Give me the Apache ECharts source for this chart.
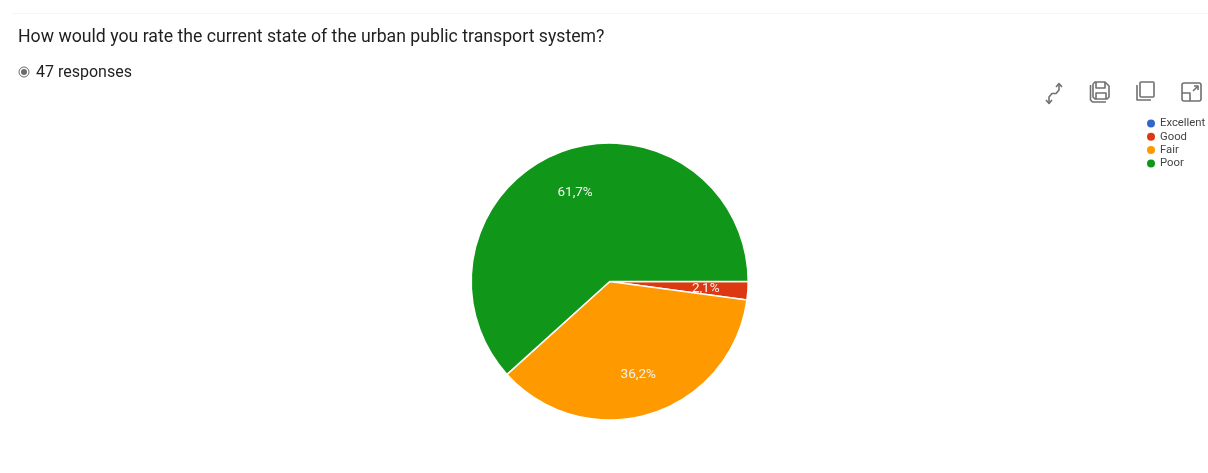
<!DOCTYPE html>
<html>
<head>
<meta charset="utf-8">
<style>html,body{margin:0;padding:0;background:#fff}#chart{width:1208px;height:473px}</style>
<script src="https://cdn.jsdelivr.net/npm/echarts@6/dist/echarts.min.js"></script>
</head>
<body>
<div id="chart"></div>
<script>
const questionText = 'How would you rate the current state of the urban public transport system?';
const responsesText = '47 responses';
const categories = ['Excellent', 'Good', 'Fair', 'Poor'];
const responseCounts = [0, 1, 17, 29];
const sliceColors = ['#3366cc', '#dc3912', '#ff9900', '#109618'];

const center = [609.7, 281.5];
const pieData = categories.map((name, i) => ({
  name,
  value: responseCounts[i],
  itemStyle: { color: sliceColors[i] }
}));

// Toolbar icons, outlined in grey
const iconStyle = { stroke: '#707070', lineWidth: 1.6, fill: 'none', lineJoin: 'round' };
const stroke = points => ({ type: 'polyline', shape: { points }, style: iconStyle });
const box = (x, y, width, height, r) => ({ type: 'rect', shape: { x, y, width, height, r }, style: iconStyle });

const toolbarIcons = [
  // Swap-axes arrows
  stroke([[1059, 85], [1059, 90], [1056, 93.5], [1052, 93.5], [1049, 97], [1049, 103]]),
  stroke([[1056, 87], [1059, 83.5], [1062, 87]]),
  stroke([[1046, 100], [1049, 103.5], [1052, 100]]),
  // Save
  stroke([[1093, 84], [1095, 82], [1105, 82], [1109, 86], [1109, 97], [1107, 99], [1095, 99], [1093, 97], [1093, 84]]),
  stroke([[1096, 82], [1096, 88], [1105, 88], [1105, 82]]),
  stroke([[1096, 99], [1096, 93], [1106, 93], [1106, 99]]),
  stroke([[1090.5, 85], [1090.5, 100], [1092.5, 102], [1106, 102]]),
  // Copy
  box(1140, 82, 14, 15, 1),
  stroke([[1137, 85], [1137, 100], [1151, 100]]),
  // Expand
  box(1182, 83, 19, 18, 2),
  stroke([[1182, 93], [1190, 93], [1190, 101]]),
  stroke([[1193, 91], [1198, 86]]),
  stroke([[1194, 86], [1198, 86], [1198, 90]])
];

const chart = echarts.init(document.getElementById('chart'), null, { renderer: 'canvas' });
chart.setOption({
  animation: false,
  backgroundColor: '#ffffff',
  legend: {
    orient: 'vertical',
    left: 1145,
    top: 117.5,
    padding: 0,
    icon: 'circle',
    itemWidth: 10,
    itemHeight: 10,
    itemGap: 1.3,
    data: categories,
    textStyle: {
      fontFamily: 'Roboto',
      fontSize: 11.3,
      lineHeight: 9,
      color: '#444444',
      padding: [0, 0, 0, -1]
    }
  },
  series: [
    {
      type: 'pie',
      center,
      radius: [0, 138.5],
      startAngle: 0,
      clockwise: true,
      silent: true,
      data: pieData,
      itemStyle: { borderColor: '#ffffff', borderWidth: 1.5 },
      label: { show: false },
      labelLine: { show: false }
    },
    {
      // Transparent ring that carries the percentage labels inside each slice
      type: 'pie',
      center,
      radius: [48, 138.5],
      startAngle: 0,
      clockwise: true,
      silent: true,
      legendHoverLink: false,
      data: categories.map((name, i) => ({
        name,
        value: responseCounts[i],
        itemStyle: { color: 'rgba(0,0,0,0)', borderWidth: 0 }
      })),
      label: {
        show: true,
        position: 'inside',
        rotate: 0,
        offset: [0, 1],
        color: '#f4f4f4',
        fontFamily: 'Roboto',
        fontSize: 13.5,
        formatter: p => p.value > 0 ? p.percent.toFixed(1).replace('.', ',') + '%' : ''
      },
      labelLine: { show: false }
    }
  ],
  graphic: [
    { type: 'line', shape: { x1: 12, y1: 13.5, x2: 1208, y2: 13.5 }, style: { stroke: '#f8f6e6', lineWidth: 1 } },
    { type: 'text', x: 18, y: 37.5, style: { text: questionText, fontFamily: 'Roboto', fontSize: 17.7, fill: '#1f1f1f', verticalAlign: 'middle' } },
    { type: 'circle', shape: { cx: 24, cy: 72, r: 5 }, style: { stroke: '#6a6a6a', lineWidth: 1, fill: 'none' } },
    { type: 'circle', shape: { cx: 24, cy: 72, r: 3 }, style: { fill: '#6a6a6a' } },
    { type: 'text', x: 36, y: 73, style: { text: responsesText, fontFamily: 'Roboto', fontSize: 16, fill: '#1f1f1f', verticalAlign: 'middle' } },
    ...toolbarIcons
  ]
});
</script>
</body>
</html>
